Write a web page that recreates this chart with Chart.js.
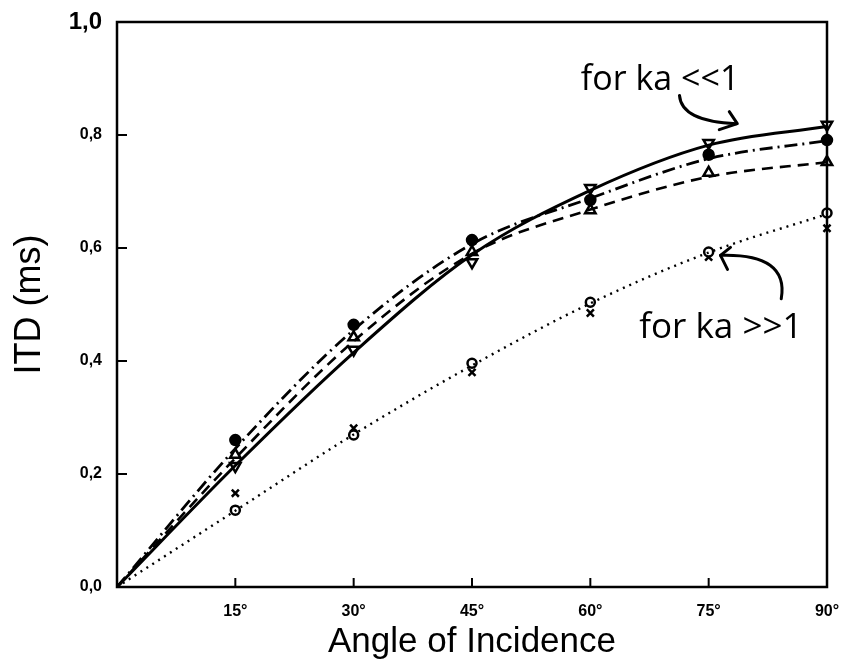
<!DOCTYPE html>
<html>
<head>
<meta charset="utf-8">
<script src="https://cdn.jsdelivr.net/npm/chart.js@4.4.1/dist/chart.umd.min.js"></script>
<style>
  body { margin: 0; background: #fff; }
  canvas { display: block; }
</style>
</head>
<body>
<canvas id="chart" width="841" height="666"></canvas>
<script>
// angles in degrees
const angles = [0, 15, 30, 45, 60, 75, 90];
const markerAngles = [15, 30, 45, 60, 75, 90];

// theoretical curves (ms)
const solidCurve = [0, 0.215, 0.415, 0.588, 0.702, 0.782, 0.815];
const dashDotCurve = [0, 0.245, 0.455, 0.607, 0.688, 0.758, 0.79];
const dashedCurve = [0, 0.228, 0.435, 0.59, 0.668, 0.726, 0.752];
const dottedCurve = [0, 0.135, 0.27, 0.392, 0.502, 0.592, 0.66];

// measured points (ms)
const filledCircle = [0.26, 0.464, 0.614, 0.685, 0.765, 0.791];
const triUp = [0.234, 0.442, 0.593, 0.667, 0.733, 0.752];
const triDown = [0.214, 0.42, 0.575, 0.706, 0.786, 0.818];
const openCircle = [0.136, 0.269, 0.396, 0.504, 0.593, 0.662];
const crossMark = [0.166, 0.281, 0.38, 0.485, 0.584, 0.635];

const yTicks = [0, 0.2, 0.4, 0.6, 0.8, 1.0];
const xTicks = [15, 30, 45, 60, 75, 90];

const toPts = (xs, ys) => xs.map((x, i) => ({ x: x, y: ys[i] }));

const curve = (data, dash, width) => ({
  type: "line",
  data: toPts(angles, data),
  borderColor: "#000",
  borderWidth: width,
  borderDash: dash,
  pointRadius: 0,
  cubicInterpolationMode: "monotone",
  clip: false,
});

const marks = (data, style, opts) => Object.assign({
  type: "scatter",
  data: toPts(markerAngles, data),
  pointStyle: style,
  pointRadius: 6,
  borderColor: "#000",
  backgroundColor: "#fff",
  pointBorderWidth: 2.5,
  clip: false,
}, opts || {});

const frame = {
  id: "frame",
  afterDraw(chart) {
    const { ctx, chartArea: a, scales } = chart;
    const x = scales.x, y = scales.y;
    ctx.save();
    ctx.strokeStyle = "#000";
    ctx.lineWidth = 2.5;
    ctx.strokeRect(a.left, a.top, a.right - a.left, a.bottom - a.top);
    // inward ticks
    ctx.lineWidth = 2;
    yTicks.forEach((v) => {
      const py = y.getPixelForValue(v);
      ctx.beginPath();
      ctx.moveTo(a.left, py);
      ctx.lineTo(a.left + 10, py);
      ctx.stroke();
    });
    xTicks.forEach((v) => {
      const px = x.getPixelForValue(v);
      ctx.beginPath();
      ctx.moveTo(px, a.bottom);
      ctx.lineTo(px, a.bottom - 9);
      ctx.stroke();
    });

    // annotations
    ctx.fillStyle = "#000";
    ctx.font = "34px 'Open Sans'";
    ctx.textBaseline = "alphabetic";
    ctx.fillText("for ka <<1", x.getPixelForValue(58.8), y.getPixelForValue(0.88));
    ctx.font = "35px 'Open Sans'";
    ctx.fillText("for ka >>1", x.getPixelForValue(66.2), y.getPixelForValue(0.44));

    ctx.lineWidth = 3;
    ctx.lineCap = "round";
    ctx.lineJoin = "round";
    // arrow 1
    let sx = x.getPixelForValue(71.3), sy = y.getPixelForValue(0.87);
    let tx = x.getPixelForValue(78.5), ty = y.getPixelForValue(0.82);
    ctx.beginPath();
    ctx.moveTo(sx, sy);
    ctx.quadraticCurveTo(sx + 2, ty - 2, tx, ty);
    ctx.stroke();
    ctx.beginPath();
    ctx.moveTo(tx - 7, ty - 12);
    ctx.lineTo(tx + 1, ty);
    ctx.lineTo(tx - 17, ty + 6);
    ctx.stroke();
    // arrow 2
    sx = x.getPixelForValue(84.2); sy = y.getPixelForValue(0.51);
    tx = x.getPixelForValue(76.5); ty = y.getPixelForValue(0.587);
    ctx.beginPath();
    ctx.moveTo(sx, sy);
    ctx.quadraticCurveTo(sx + 8, ty - 2, tx, ty);
    ctx.stroke();
    ctx.beginPath();
    ctx.moveTo(tx + 10, ty - 8);
    ctx.lineTo(tx, ty);
    ctx.lineTo(tx + 7, ty + 14);
    ctx.stroke();
    ctx.restore();
  },
};

new Chart(document.getElementById("chart"), {
  data: {
    datasets: [
      curve(solidCurve, [], 3),
      curve(dashDotCurve, [13, 5, 2, 5], 2.8),
      curve(dashedCurve, [11, 7], 2.6),
      curve(dottedCurve, [2, 5], 2.4),
      marks(filledCircle, "circle", { pointRadius: 5, backgroundColor: "#000" }),
      marks(triUp, "triangle"),
      marks(triDown, "triangle", { rotation: 180 }),
      marks(openCircle, "circle", { pointRadius: 4.5 }),
      marks(crossMark, "crossRot", { pointRadius: 5 }),
    ],
  },
  options: {
    responsive: false,
    animation: false,
    layout: { padding: { top: 22, right: 14, left: 0, bottom: 0 } },
    plugins: { legend: { display: false }, tooltip: { enabled: false } },
    scales: {
      x: {
        type: "linear",
        min: 0,
        max: 90,
        afterFit: (s) => { s.height = 79; s.paddingLeft = 0; s.paddingRight = 0; },
        afterBuildTicks: (s) => { s.ticks = [0].concat(xTicks).map((v) => ({ value: v })); },
        grid: { display: false, drawTicks: false },
        border: { display: false },
        ticks: {
          padding: 15,
          color: "#000",
          maxRotation: 0,
          font: { family: "'Liberation Sans'", size: 16, weight: "bold" },
          callback: (v) => (v === 0 ? "" : v + "°"),
        },
        title: {
          display: true,
          text: "Angle of Incidence",
          color: "#000",
          font: { family: "'Liberation Sans'", size: 35 },
          padding: { bottom: 3 },
        },
      },
      y: {
        type: "linear",
        min: 0,
        max: 1,
        afterFit: (s) => { s.width = 117; s.paddingTop = 0; s.paddingBottom = 0; },
        afterBuildTicks: (s) => { s.ticks = yTicks.map((v) => ({ value: v })); },
        grid: { display: false, drawTicks: false },
        border: { display: false },
        ticks: {
          padding: 15,
          color: "#000",
          font: (c) => ({
            family: "'Liberation Sans'",
            weight: "bold",
            size: c.tick && c.tick.value === 1 ? 24 : 16,
          }),
          callback: (v) => v.toFixed(1).replace(".", ","),
        },
        title: {
          display: true,
          text: "ITD (ms)",
          color: "#000",
          font: { family: "'Liberation Sans'", size: 36 },
          padding: { top: 8 },
        },
      },
    },
  },
  plugins: [frame],
});
</script>
</body>
</html>
